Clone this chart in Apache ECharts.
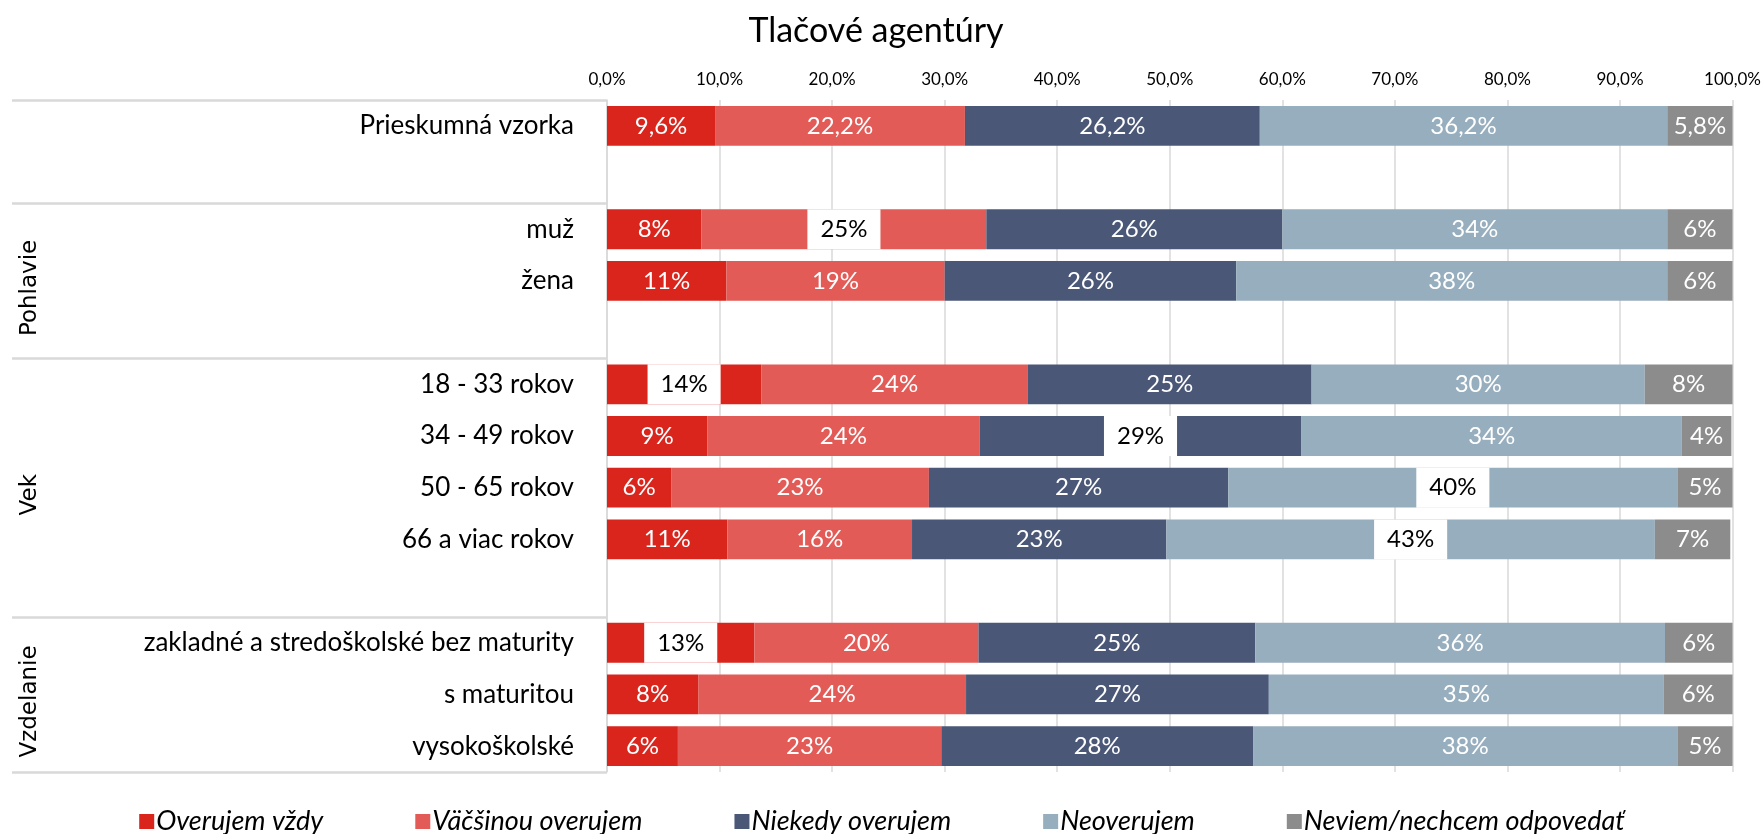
<!DOCTYPE html>
<html>
<head>
<meta charset="utf-8">
<script src="https://cdn.jsdelivr.net/npm/echarts@6/dist/echarts.min.js"></script>
<style>
html,body{margin:0;padding:0;background:#fff;}
#chart{width:1764px;height:834px;}
</style>
</head>
<body>
<div id="chart"></div>
<script>
// ---- data ----
const titleText = 'Tlačové agentúry';
const categories = ['Prieskumná vzorka', ' ', 'muž', 'žena', '  ', '18 - 33 rokov', '34 - 49 rokov', '50 - 65 rokov', '66 a viac rokov', '   ', 'zakladné a stredoškolské bez maturity', 's maturitou', 'vysokoškolské'];
const seriesNames = ['Overujem vždy', 'Väčšinou overujem', 'Niekedy overujem', 'Neoverujem', 'Neviem/nechcem odpovedať'];
const overujemVzdy     = [9.6, null, 8.4, 10.6, null, 13.7, 8.9, 5.7, 10.7, null, 13.1, 8.1, 6.3];
const vacsinouOverujem = [22.2, null, 25.3, 19.4, null, 23.7, 24.2, 22.9, 16.4, null, 19.9, 23.8, 23.4];
const niekedyOverujem  = [26.2, null, 26.3, 25.9, null, 25.2, 28.6, 26.6, 22.6, null, 24.6, 26.9, 27.7];
const neoverujem       = [36.2, null, 34.2, 38.3, null, 29.6, 33.8, 39.9, 43.4, null, 36.4, 35.1, 37.7];
const neviem           = [5.8, null, 5.8, 5.8, null, 7.8, 4.4, 5.0, 6.7, null, 6.1, 6.1, 5.0];
// groups of categories: [label, first index, end index (exclusive)]
const groups = [['Pohlavie', 2, 5], ['Vek', 5, 10], ['Vzdelanie', 10, 13]];
const separatorIdx = [0, 2, 5, 10, 13];
// highlighted labels: [series index, category index]
const highlighted = [[1, 2], [0, 5], [2, 6], [3, 7], [3, 8], [0, 10]];

const allValues = [overujemVzdy, vacsinouOverujem, niekedyOverujem, neoverujem, neviem];
const colors = ['#DA251D', '#E35B57', '#4A5777', '#97AEBE', '#8C8C8C'];
const FONT = 'Lato';

const chart = echarts.init(document.getElementById('chart'));

function fmtLabel(catIdx, v) {
  if (catIdx === 0) return v.toFixed(1).replace('.', ',') + '%';
  return Math.round(v) + '%';
}

const series = allValues.map((vals, si) => ({
  name: seriesNames[si],
  type: 'bar',
  stack: 'total',
  barCategoryGap: '23%',
  itemStyle: { color: colors[si] },
  emphasis: { disabled: true },
  data: vals.map((v, ci) => {
    if (v === null) return null;
    const hl = highlighted.some(h => h[0] === si && h[1] === ci);
    const item = { value: v };
    if (hl) {
      item.label = {
        color: '#000',
        backgroundColor: '#fff',
        padding: [8, 13, 8, 13]
      };
    }
    return item;
  }),
  label: {
    show: true,
    position: 'inside',
    color: '#fff',
    fontFamily: FONT,
    fontSize: 24,
    formatter: p => fmtLabel(p.dataIndex, p.value)
  }
}));

const option = {
  animation: false,
  title: {
    text: titleText,
    left: 871,
    top: 9,
    textAlign: 'center',
    textStyle: { fontFamily: FONT, fontSize: 34, fontWeight: 'normal', color: '#000' }
  },
  legend: {
    top: 803,
    left: 'center',
    itemWidth: 15,
    itemHeight: 15,
    itemGap: 92,
    icon: 'rect',
    textStyle: { fontFamily: FONT, fontSize: 27, fontStyle: 'italic', color: '#000', padding: [0, 0, 0, -3] },
    data: seriesNames
  },
  grid: { left: 607, right: 31, top: 100, bottom: 62 },
  xAxis: {
    type: 'value',
    position: 'top',
    min: 0,
    max: 100,
    interval: 10,
    axisLine: { show: false },
    axisTick: { show: false },
    axisLabel: {
      fontFamily: FONT, fontSize: 17, color: '#000', margin: 12,
      formatter: v => v.toFixed(1).replace('.', ',') + '%'
    },
    splitLine: { lineStyle: { color: '#D9D9D9', width: 1.5 } }
  },
  yAxis: {
    type: 'category',
    inverse: true,
    data: categories,
    axisLine: { show: true, lineStyle: { color: '#D9D9D9', width: 1.5 } },
    axisTick: { show: false },
    axisLabel: { fontFamily: FONT, fontSize: 26, color: '#000', margin: 33 }
  },
  series: series
};
chart.setOption(option);

// separator lines and group labels computed from the category scale
function catY(i) {
  return chart.convertToPixel({ yAxisIndex: 0 }, categories[i]);
}
const band = catY(1) - catY(0);
function boundaryY(i) {
  if (i < categories.length) return catY(i) - band / 2;
  return catY(categories.length - 1) + band / 2;
}
const x0 = chart.convertToPixel({ xAxisIndex: 0 }, 0);
const graphics = [];
separatorIdx.forEach(i => {
  const y = Math.round(boundaryY(i)) + 0.5;
  graphics.push({
    type: 'line',
    shape: { x1: 12, y1: y, x2: x0, y2: y },
    style: { stroke: '#D9D9D9', lineWidth: 2.5 },
    silent: true
  });
});
groups.forEach(g => {
  const yc = (boundaryY(g[1]) + boundaryY(g[2])) / 2 + 7;
  graphics.push({
    type: 'text',
    x: 30,
    y: yc,
    rotation: Math.PI / 2,
    style: {
      text: g[0],
      fontFamily: 'DejaVu Sans',
      fontSize: 23,
      fill: '#000',
      align: 'center',
      verticalAlign: 'middle'
    },
    silent: true
  });
});
chart.setOption({ graphic: graphics });
</script>
</body>
</html>
